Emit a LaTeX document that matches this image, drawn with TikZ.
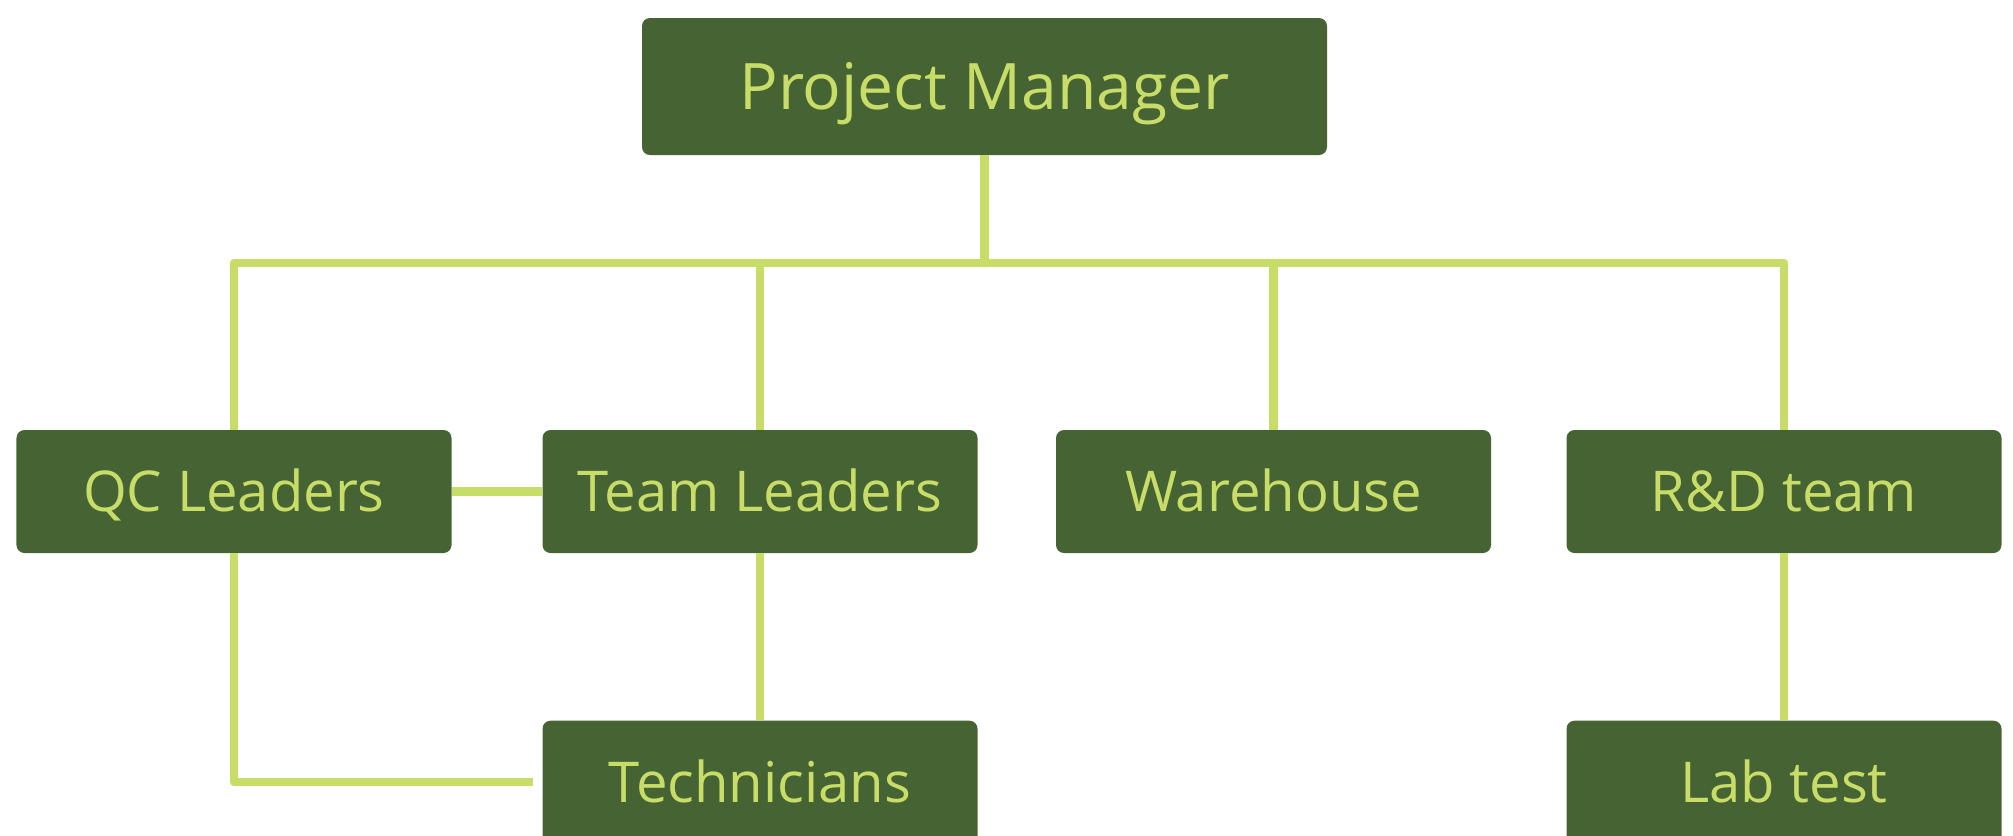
\documentclass[tikz,border=0pt]{standalone}
\usepackage{fontspec}
\setmainfont{Open Sans}
\usepackage{tikz}
\usetikzlibrary{positioning}
\definecolor{boxgreen}{HTML}{466333}
\definecolor{limegreen}{HTML}{C8DC68}
\tikzset{
    box/.style={rectangle,rounded corners=0.16cm,fill=boxgreen,text=limegreen,
        minimum width=8.7cm,minimum height=2.46cm,inner sep=0pt,
        text height=23.2pt,text depth=0pt},
    topbox/.style={box,minimum width=13.7cm,minimum height=2.74cm,
        font=\fontsize{36.5}{44}\selectfont,text height=26pt},
    link/.style={draw=limegreen,line width=0.17cm,line join=round},
}
\tikzstyle{every node}=[font=\fontsize{32}{39}\selectfont]

\begin{document}
\begin{tikzpicture}
        \clip (0,0) rectangle (40.26,-16.7);
        \node[topbox] (pm) at (19.69,-1.73) {Project Manager};
        \node[box] (qc) at (4.68,-9.83) {QC Leaders};
        \node[box] (tl) at (15.2,-9.83) {Team Leaders};
        \node[box] (wh) at (25.47,-9.83) {Warehouse};
        \node[box] (rd) at (35.68,-9.83) {R\&D team};
        \node[box,below=3.34cm of tl] (tech) {Technicians};
        \node[box,below=3.34cm of rd] (lab) {Lab test};

        \coordinate (bus) at (0,-5.26);
        \draw[link] (pm.south) -- (pm.south |- bus);
        \draw[link] (qc.north) |- (rd.north |- bus) -- (rd.north);
        \draw[link] (tl.north) -- (tl.north |- bus);
        \draw[link] (wh.north) -- (wh.north |- bus);
        \draw[link] (qc.east) -- (tl.west);
        \draw[link] (tl.south) -- (tech.north);
        \draw[link] (rd.south) -- (lab.north);
        \draw[link,shorten >=0.18cm] (qc.south) |- (tech.west);
    \end{tikzpicture}
\end{document}
